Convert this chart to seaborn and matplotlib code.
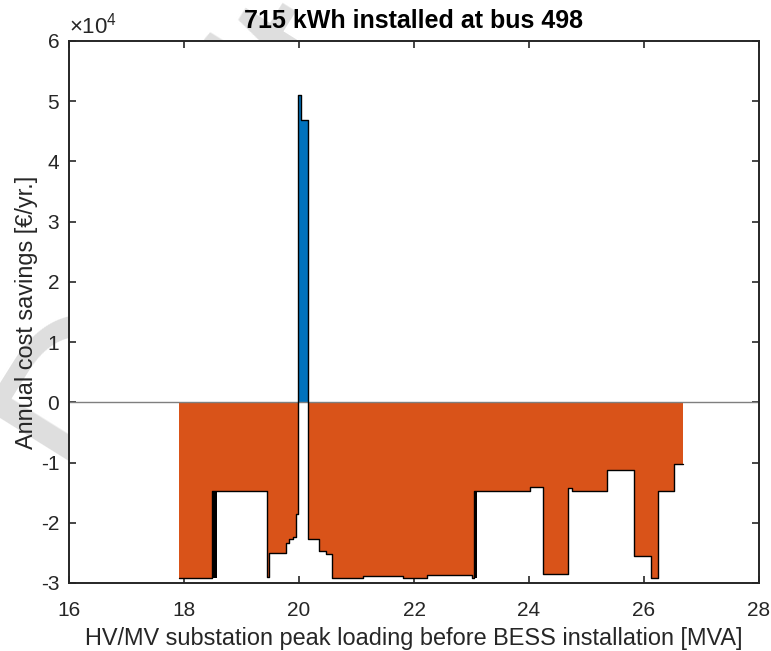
import numpy as np
import matplotlib
matplotlib.use("Agg")
import matplotlib.pyplot as plt
import seaborn as sns
from matplotlib.ticker import FuncFormatter, MultipleLocator

# ---- data ----
# step function: each value applies from its x to the next x (MVA, EUR/yr)
x_start = [17.92, 18.48, 19.44, 19.48, 19.77, 19.83, 19.89, 19.95, 19.99, 20.03,
           20.16, 20.35, 20.47, 20.57, 21.12, 21.81, 22.22, 23.00, 23.04, 24.02,
           24.24, 24.67, 24.74, 25.35, 25.83, 26.12, 26.24, 26.52]
savings = [-29100, -14800, -29000, -25000, -23300, -22700, -22400, -18500, 51000, 46900,
           -22700, -24700, -25200, -29200, -28800, -29200, -28700, -29100, -14800, -14100,
           -28500, -14200, -14800, -11200, -25500, -29200, -14800, -10200]
x_end = 26.67
# dense transitions drawn as solid black bands (x from, x to, y low, y high)
band_x0 = [18.48, 23.04]
band_x1 = [18.57, 23.10]
band_lo = [-29100, -29100]
band_hi = [-14800, -14800]

title = "715 kWh installed at bus 498"
xlabel = "HV/MV substation peak loading before BESS installation [MVA]"
ylabel = "Annual cost savings [€/yr.]"

# ---- style ----
sns.set_theme(style="white")
plt.rcParams["font.family"] = ["Liberation Sans", "DejaVu Sans"]
plt.rcParams["mathtext.fontset"] = "custom"
plt.rcParams["mathtext.rm"] = "Liberation Sans"
plt.rcParams["mathtext.it"] = "Liberation Sans"
plt.rcParams["mathtext.bf"] = "Liberation Sans:bold"
dark = "#262626"

fig = plt.figure(figsize=(7.71, 6.51), dpi=100)
ax = fig.add_axes([69/771, 1-583/651, (759-69)/771, (583-41)/651])
ax.set_facecolor("white")

xs = np.array(x_start + [x_end])
ys = np.array(savings + [savings[-1]], dtype=float)

ax.fill_between(xs, 0, np.clip(ys, None, 0), step="post", color="#D95319", lw=0, zorder=1)
ax.fill_between(xs, 0, np.clip(ys, 0, None), step="post", color="#0072BD", lw=0, zorder=1)
for a, b, lo, hi in zip(band_x0, band_x1, band_lo, band_hi):
    ax.fill_between([a, b], lo, hi, color="black", lw=0, zorder=2)

ax.axhline(0, color="#7f7f7f", lw=1.0, zorder=2)
sns.lineplot(x=xs, y=ys, drawstyle="steps-post", color="black", lw=1.0,
             estimator=None, sort=False, ax=ax, zorder=3)

ax.set_xlim(16, 28)
ax.set_ylim(-30000, 60000)
ax.xaxis.set_major_locator(MultipleLocator(2))
ax.yaxis.set_major_locator(MultipleLocator(10000))
ax.yaxis.set_major_formatter(FuncFormatter(lambda v, p: f"{v/1e4:g}"))

for s in ax.spines.values():
    s.set_visible(True)
    s.set_color(dark)
    s.set_linewidth(1.4)
ax.tick_params(direction="in", length=5, width=1.2, color=dark, labelcolor=dark,
               labelsize=15, top=True, right=True, bottom=True, left=True)
ax.tick_params(axis="x", pad=13)
ax.tick_params(axis="y", pad=7)

ax.set_title(title, fontsize=18, fontweight="bold", color="black", pad=9)
ax.set_xlabel(xlabel, fontsize=16.9, color=dark, labelpad=5)
ax.set_ylabel(ylabel, fontsize=16.9, color=dark, labelpad=2)
ax.text(0.0, 1.004, r"$\times10^{4}$", transform=ax.transAxes, fontsize=16,
        color=dark, ha="left", va="bottom")

# watermark behind the axes
fig.text(0.25, 0.63, "Draft", rotation=58, fontsize=175, color="#dedede",
         ha="center", va="center", zorder=-1)

fig.savefig("out.png", dpi=100)
